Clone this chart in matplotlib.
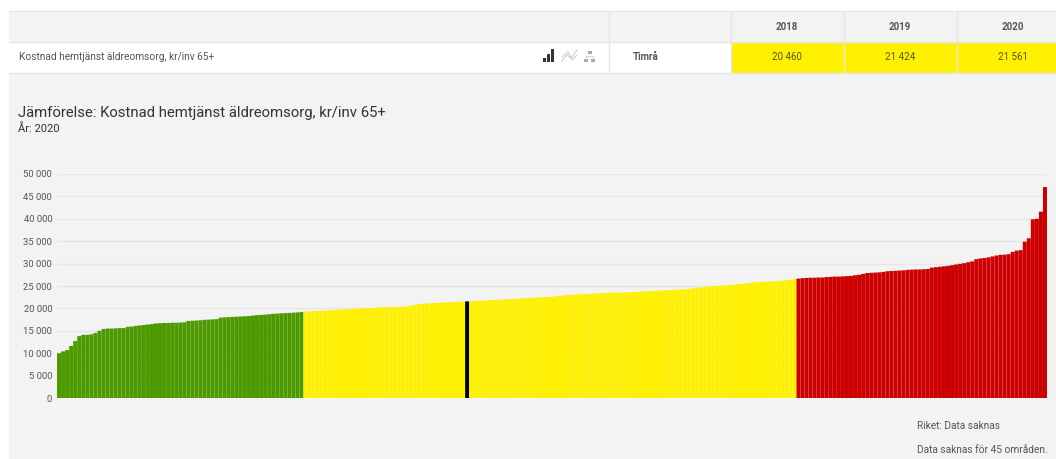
import matplotlib
matplotlib.use("Agg")
import matplotlib.pyplot as plt
from matplotlib.patches import Rectangle

plt.rcParams['font.family'] = ['Roboto', 'DejaVu Sans']

# municipalities sorted by cost, split in the three colour groups
green_values = [10000, 10400, 10700, 11600, 12700, 13800, 14100, 14100, 14200, 14500, 15000, 15400,
                15500, 15500, 15550, 15600, 15600, 15900, 15950,
                16100, 16200, 16300, 16400, 16500,
                16650, 16700, 16750, 16750, 16800, 16800, 16850, 16900,
                17200, 17250, 17300, 17350, 17450, 17500, 17550, 17600,
                17950, 18000, 18050, 18100, 18150, 18200, 18250, 18300,
                18400, 18500, 18550, 18600, 18700,
                18800, 18850, 18900, 18950, 19000, 19050, 19100, 19200]
yellow_before = [19300, 19350, 19400, 19450, 19500, 19550, 19600, 19650, 19700, 19750,
                 19800, 19850, 19900, 19950, 20000, 20050, 20100, 20150, 20200, 20230,
                 20260, 20290, 20320, 20350, 20400, 20450,
                 20600, 20800, 20950, 21050, 21100, 21150, 21200, 21250, 21300, 21350,
                 21400, 21450, 21500, 21530]
timra_value = [21561]
yellow_after = [21600, 21650, 21700, 21750, 21800, 21850, 21900, 21950, 22000, 22050,
                22100, 22150, 22200, 22250, 22300, 22350, 22400, 22450, 22500, 22550,
                22600, 22700, 22800, 22900, 23000, 23050, 23100, 23150, 23200, 23250,
                23300, 23350, 23400, 23450, 23500, 23520, 23540, 23560, 23580, 23600,
                23650, 23700, 23750, 23800, 23850, 23900, 23950, 24000, 24050, 24100,
                24150, 24200, 24250, 24300, 24400, 24500, 24600, 24700, 24800, 24900,
                25000, 25050, 25100, 25150, 25200, 25300, 25400, 25500, 25600, 25700,
                25800, 25850, 25900, 25950, 26000, 26050, 26100, 26200, 26300, 26400, 26500]
red_values = [26650, 26750, 26800, 26850, 26850, 26900, 26900,
              27000, 27050, 27100, 27100, 27150, 27200, 27250,
              27400, 27500, 27700, 27900, 27950, 28000, 28050, 28150, 28300,
              28350, 28400, 28450, 28500, 28600, 28650, 28700, 28700, 28750, 28800,
              29100, 29200, 29300, 29400, 29500, 29650, 29800, 29950, 30100, 30300, 30500,
              31000, 31150, 31250, 31400, 31600, 31800, 31950, 32000, 32100,
              32600, 32900, 33000, 34900, 35650, 39900, 40000, 41600, 47100]

y_ticks = [0, 5000, 10000, 15000, 20000, 25000, 30000, 35000, 40000, 45000, 50000]
y_tick_labels = ['0', '5 000', '10 000', '15 000', '20 000', '25 000', '30 000', '35 000', '40 000', '45 000', '50 000']

years = ['2018', '2019', '2020']
year_values = ['20 460', '21 424', '21 561']
row_label = 'Kostnad hemtjänst äldreomsorg, kr/inv 65+'
area_name = 'Timrå'

W, H = 1056, 459
BG = '#f3f3f3'
LINE = '#e6e6e6'
GREEN = '#4c9a00'
YELLOW = '#fff000'
RED = '#cc0000'

fig = plt.figure(figsize=(W / 100, H / 100), dpi=100, facecolor='white')

# pixel canvas for the table and the texts, y runs downwards
bg = fig.add_axes([0, 0, 1, 1])
bg.set_xlim(0, W)
bg.set_ylim(H, 0)
bg.axis('off')

bg.add_patch(Rectangle((9, 11), W - 9, H - 11, color=BG, lw=0))
bg.add_patch(Rectangle((9, 42), W - 9, 31, color='white', lw=0))
bg.add_patch(Rectangle((732, 42), W - 732, 31, color=YELLOW, lw=0))
for y in [11, 41.5, 73]:
    bg.plot([9, W], [y, y], color=LINE, lw=1)
for x in [609, 731, 844, 957]:
    bg.plot([x, x], [11, 73], color=LINE, lw=1)

bg.text(19, 57, row_label, fontsize=7.3, color='#555555', va='center')
bg.text(646, 57, area_name, fontsize=6.9, color='#555555', va='center', ha='center', fontweight='bold')
for x, year, val in zip([787, 900, 1013], years, year_values):
    bg.text(x, 27, year, fontsize=7, color='#555555', va='center', ha='center', fontweight='bold')
    bg.text(x, 57, val, fontsize=7, color='#555500', va='center', ha='center')

# small icons in the table row
for x, top in [(543, 58), (547, 54), (551, 49)]:
    bg.add_patch(Rectangle((x, top), 3, 62 - top, color='#333333', lw=0))
bg.plot([562, 567, 571, 577], [61, 55, 58, 50], color='#cccccc', lw=0.8)
bg.plot([562, 568, 572, 577], [57, 52, 60, 55], color='#cccccc', lw=0.8)
for x, y in [(586, 59), (593, 59), (589.5, 51)]:
    bg.add_patch(Rectangle((x - 2, y), 4, 3, color='#aaaaaa', lw=0))
bg.plot([586, 586, 593, 593], [59, 56, 56, 59], color='#cccccc', lw=0.6)

bg.text(18, 112.5, 'Jämförelse: Kostnad hemtjänst äldreomsorg, kr/inv 65+', fontsize=10.75, color='#333333', va='center')
bg.text(18, 129, 'År: 2020', fontsize=8, color='#333333', va='center')
bg.text(917, 426, 'Riket: Data saknas', fontsize=7.3, color='#555555', va='center')
bg.text(917, 450, 'Data saknas för 45 områden.', fontsize=7.3, color='#555555', va='center')

# chart itself, 0 at y=398 and 50 000 at y=174
ax = fig.add_axes([57 / W, 1 - 398 / H, 990 / W, 224 / H])
ax.patch.set_alpha(0)

all_values = green_values + yellow_before + timra_value + yellow_after + red_values
colors = ([GREEN] * len(green_values) + [YELLOW] * len(yellow_before) + ['black'] * len(timra_value)
          + [YELLOW] * len(yellow_after) + [RED] * len(red_values))
# snap off, otherwise the thin seams between bars turn into white stripes
ax.bar(range(len(all_values)), all_values, width=0.99, color=colors, linewidth=0, zorder=3, snap=False)

ax.set_xlim(-0.5, len(all_values) - 0.5)
ax.set_ylim(0, 50000)
ax.set_xticks([])
ax.set_yticks(y_ticks)
ax.set_yticklabels(y_tick_labels, fontsize=6.8, color='#555555')
ax.tick_params(axis='y', length=0, pad=3.5)
ax.grid(axis='y', color=LINE, lw=1, zorder=0)
ax.set_axisbelow(True)
for s in ax.spines.values():
    s.set_visible(False)

fig.savefig('out.png', dpi=100, facecolor='white')
